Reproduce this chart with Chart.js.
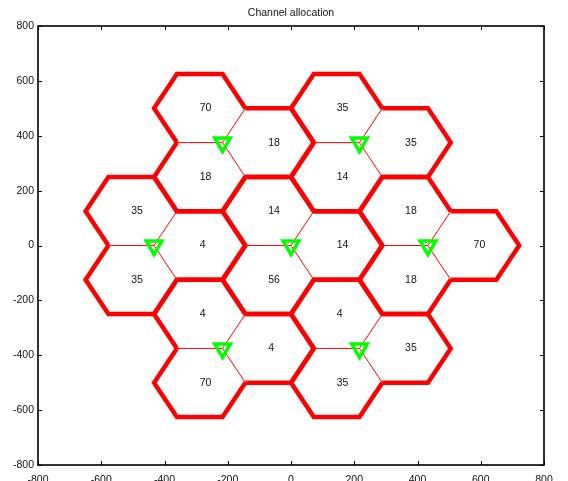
<!DOCTYPE html>
<html lang="en">
<head>
    <meta charset="UTF-8">
    <title>Channel allocation</title>
    <script src="https://cdn.jsdelivr.net/npm/chart.js"></script>
    <style>
        body {
            margin: 0;
            background-color: #ffffff;
        }
        canvas {
            display: block;
        }
    </style>
</head>
<body>

    <canvas id="cellChart" width="568" height="481"></canvas>

    <script>
        // Base station sites (each one serves three hexagonal sectors)
        const siteX = [-216.5, 216.5, -433, 0, 433, -216.5, 216.5];
        const siteY = [375, 375, 0, 0, 0, -375, -375];

        // Channels per sector: right, upper-left and lower-left cell of each site
        const chRight = [18, 35, 4, 14, 70, 4, 35];
        const chUpLeft = [70, 35, 35, 14, 18, 4, 4];
        const chLowLeft = [18, 14, 35, 56, 18, 70, 35];

        const xTicks = [-800, -600, -400, -200, 0, 200, 400, 600, 800];
        const yTicks = [-800, -600, -400, -200, 0, 200, 400, 600, 800];

        const cellRadius = 144.3;
        const titleText = 'Channel allocation';
        const fontFamily = '"Liberation Sans", Arial, Helvetica, sans-serif';

        // Sector directions from the site: 0, 120 and 240 degrees
        const sectorAngles = [0, 120, 240];
        const sectorChannels = [chRight, chUpLeft, chLowLeft];

        function rad(deg) { return deg * Math.PI / 180; }

        const datasets = [];
        const cellLabels = [];

        // green base station markers first so they sit on top
        datasets.push({
            label: 'sites',
            data: siteX.map((x, i) => ({ x: x, y: siteY[i] })),
            showLine: false,
            pointStyle: 'triangle',
            rotation: 180,
            pointRadius: 9,
            pointBorderWidth: 3.5,
            pointBackgroundColor: 'rgba(0,0,0,0)',
            pointBorderColor: '#00ff00'
        });

        siteX.forEach((sx, i) => {
            const sy = siteY[i];
            sectorAngles.forEach((a, k) => {
                const cx = sx + cellRadius * Math.cos(rad(a));
                const cy = sy + cellRadius * Math.sin(rad(a));
                cellLabels.push({ x: cx, y: cy, text: String(sectorChannels[k][i]) });

                // outer edges of the cell: the site sits at angle a+180 from the centre
                const pts = [];
                for (let j = 1; j <= 5; j++) {
                    const t = rad(a + 180 + 60 * j);
                    pts.push({ x: cx + cellRadius * Math.cos(t), y: cy + cellRadius * Math.sin(t) });
                }
                datasets.push({
                    data: pts,
                    showLine: true,
                    borderColor: '#ff0000',
                    borderWidth: 4.5,
                    borderJoinStyle: 'miter',
                    borderCapStyle: 'butt',
                    pointRadius: 0
                });
            });

            // thin sector borders from the site
            [60, 180, 300].forEach(a => {
                datasets.push({
                    data: [
                        { x: sx, y: sy },
                        { x: sx + cellRadius * Math.cos(rad(a)), y: sy + cellRadius * Math.sin(rad(a)) }
                    ],
                    showLine: true,
                    borderColor: '#ff0000',
                    borderWidth: 1,
                    pointRadius: 0
                });
            });
        });

        const framePlugin = {
            id: 'frame',
            afterDraw(chart) {
                const ctx = chart.ctx;
                const area = chart.chartArea;
                const xs = chart.scales.x;
                const ys = chart.scales.y;
                ctx.save();

                // cell channel numbers, left aligned at the cell centre like matlab text()
                ctx.fillStyle = '#111';
                ctx.font = '10.5px ' + fontFamily;
                ctx.textAlign = 'left';
                ctx.textBaseline = 'middle';
                cellLabels.forEach(c => {
                    ctx.fillText(c.text, xs.getPixelForValue(c.x), ys.getPixelForValue(c.y));
                });

                // axes box
                ctx.strokeStyle = '#000';
                ctx.lineWidth = 1.6;
                ctx.strokeRect(area.left, area.top, area.right - area.left, area.bottom - area.top);

                // inward tick marks on all four sides
                ctx.lineWidth = 1;
                ctx.beginPath();
                xTicks.forEach(v => {
                    const px = Math.round(xs.getPixelForValue(v)) + 0.5;
                    ctx.moveTo(px, area.bottom); ctx.lineTo(px, area.bottom - 4);
                    ctx.moveTo(px, area.top); ctx.lineTo(px, area.top + 4);
                });
                yTicks.forEach(v => {
                    const py = Math.round(ys.getPixelForValue(v)) + 0.5;
                    ctx.moveTo(area.left, py); ctx.lineTo(area.left + 4, py);
                    ctx.moveTo(area.right, py); ctx.lineTo(area.right - 4, py);
                });
                ctx.stroke();

                // title
                ctx.fillStyle = '#111';
                ctx.font = '10.5px ' + fontFamily;
                ctx.textAlign = 'center';
                ctx.textBaseline = 'middle';
                ctx.fillText(titleText, (area.left + area.right) / 2, 13);
                ctx.restore();
            }
        };

        const cellChart = new Chart(document.getElementById('cellChart'), {
            type: 'scatter',
            data: { datasets: datasets },
            options: {
                responsive: false,
                animation: false,
                layout: { padding: { top: 26, right: 24, left: 0, bottom: 0 } },
                plugins: {
                    legend: { display: false },
                    tooltip: { enabled: false }
                },
                scales: {
                    x: {
                        type: 'linear',
                        min: -800,
                        max: 800,
                        afterBuildTicks: s => { s.ticks = xTicks.map(v => ({ value: v })); },
                        afterFit: s => { s.height = 16; },
                        grid: { display: false, drawTicks: false },
                        border: { display: false },
                        ticks: {
                            padding: 9,
                            color: '#111',
                            font: { family: fontFamily, size: 10.5 },
                            maxRotation: 0,
                            callback: v => String(v)
                        }
                    },
                    y: {
                        type: 'linear',
                        min: -800,
                        max: 800,
                        afterBuildTicks: s => { s.ticks = yTicks.map(v => ({ value: v })); },
                        afterFit: s => { s.width = 38; },
                        grid: { display: false, drawTicks: false },
                        border: { display: false },
                        ticks: {
                            padding: 4,
                            color: '#111',
                            font: { family: fontFamily, size: 10.5 },
                            callback: v => String(v)
                        }
                    }
                }
            },
            plugins: [framePlugin]
        });
    </script>

</body>
</html>
